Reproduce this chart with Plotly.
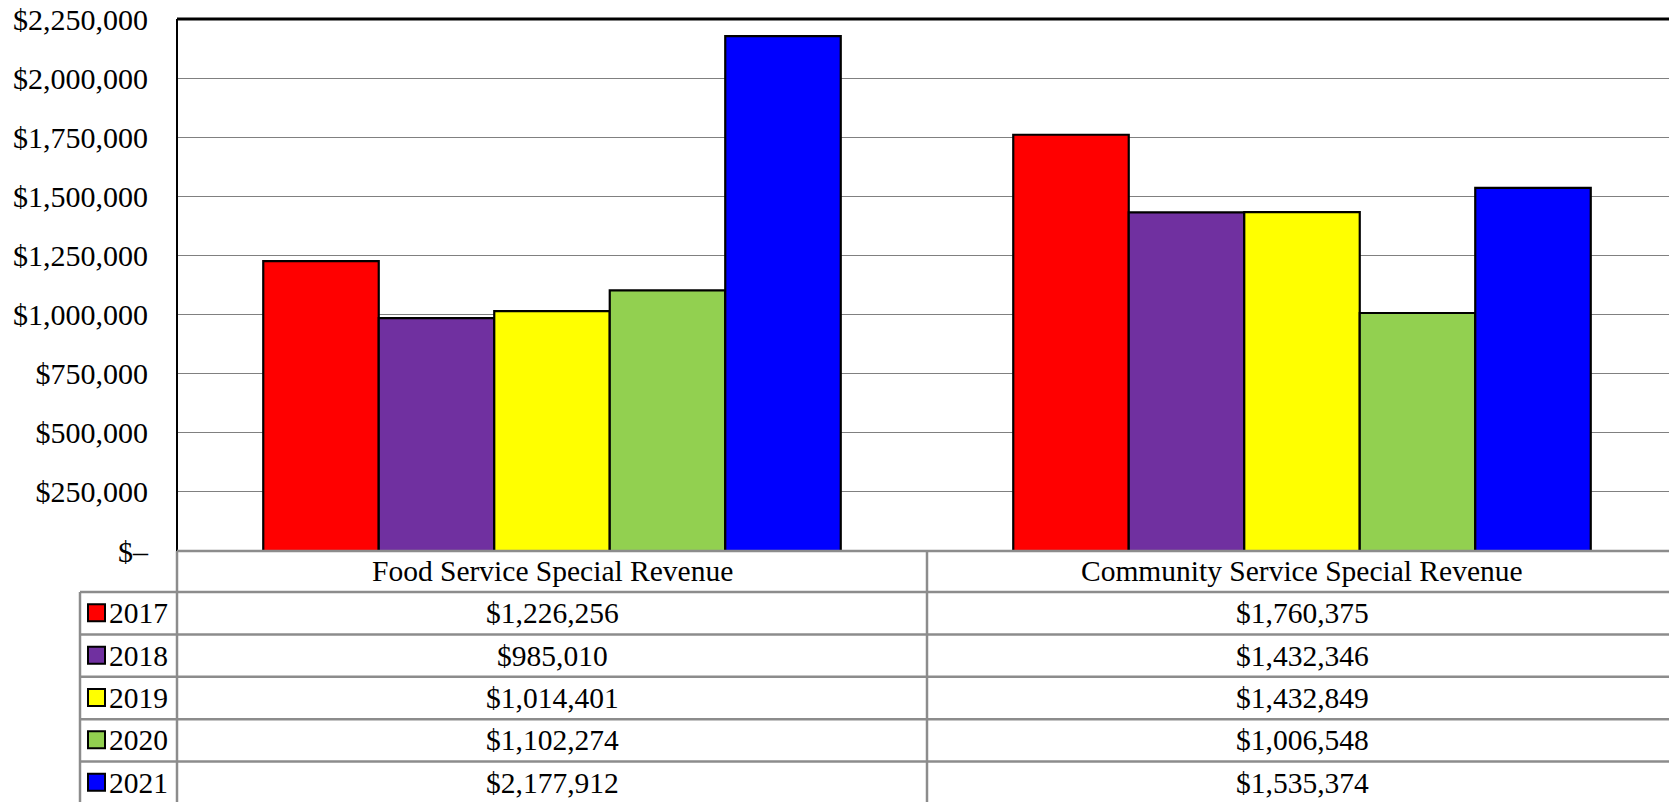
import plotly.graph_objects as go

categories = ["Food Service Special Revenue", "Community Service Special Revenue"]
years = ["2017", "2018", "2019", "2020", "2021"]
colors = ["#FF0000", "#7030A0", "#FFFF00", "#92D050", "#0000FF"]
values_2017 = [1226256, 1760375]
values_2018 = [985010, 1432346]
values_2019 = [1014401, 1432849]
values_2020 = [1102274, 1006548]
values_2021 = [2177912, 1535374]
series = [values_2017, values_2018, values_2019, values_2020, values_2021]
tick_vals = [0, 250000, 500000, 750000, 1000000, 1250000, 1500000, 1750000, 2000000, 2250000]
tick_text = ["$\u2013", "$250,000", "$500,000", "$750,000", "$1,000,000", "$1,250,000",
             "$1,500,000", "$1,750,000", "$2,000,000", "$2,250,000"]

W, H = 1669, 802
L, T, B = 177, 19, 551
PH = B - T
PW = W - L
FONT = "Times New Roman, Liberation Serif, serif"
FS = 29.5
GRID = "#808080"
TBL = "#8C8C8C"

def py(ypx):
    return (B - ypx) / PH

def px(xpx):
    return (xpx - L) / PW

fig = go.Figure()
for yr, vals, c in zip(years, series, colors):
    fig.add_trace(go.Bar(x=categories, y=vals, name=yr, marker=dict(color=c, line=dict(color="black", width=2.2))))

cat_w = 750.0
xmax = -0.5 + PW / cat_w

fig.update_layout(
    width=W, height=H, margin=dict(l=L, r=0, t=T, b=H - B),
    paper_bgcolor="white", plot_bgcolor="white",
    barmode="group", bargap=0.23, bargroupgap=0,
    showlegend=False,
    font=dict(family=FONT, size=FS, color="black"),
    xaxis=dict(range=[-0.5, xmax], showticklabels=False, showgrid=False, zeroline=False, showline=False),
    yaxis=dict(range=[0, 2250000], tickvals=tick_vals, ticktext=tick_text, showgrid=True,
               gridcolor=GRID, gridwidth=1.3, zeroline=False, showline=False,
               ticklabelstandoff=28, tickfont=dict(family=FONT, size=30)),
)

shapes = []
# plot area borders
shapes.append(dict(type="line", xref="paper", yref="paper", x0=0, x1=1, y0=1, y1=1, line=dict(color="black", width=3)))
shapes.append(dict(type="line", xref="paper", yref="paper", x0=0, x1=0, y0=0, y1=1, line=dict(color="black", width=2)))

# table lines
row_edges = [B, 592, 634.5, 676.8, 719.2, 761.5, 804]
shapes.append(dict(type="line", xref="paper", yref="paper", x0=0, x1=1, y0=py(B), y1=py(B), line=dict(color=TBL, width=2.5)))
for yv in row_edges[1:]:
    shapes.append(dict(type="line", xref="paper", yref="paper", x0=px(80), x1=1, y0=py(yv), y1=py(yv), line=dict(color=TBL, width=2.5)))
shapes.append(dict(type="line", xref="paper", yref="paper", x0=0, x1=0, y0=py(B), y1=py(804), line=dict(color=TBL, width=2.5)))
shapes.append(dict(type="line", xref="paper", yref="paper", x0=px(80), x1=px(80), y0=py(592), y1=py(804), line=dict(color=TBL, width=2.5)))
shapes.append(dict(type="line", xref="x", yref="paper", x0=0.5, x1=0.5, y0=py(B), y1=py(804), line=dict(color=TBL, width=2.5)))

annotations = []
# header
hc = (row_edges[0] + row_edges[1]) / 2
for i, cat in enumerate(categories):
    annotations.append(dict(xref="x", yref="paper", x=i, y=py(hc - 1), text=cat, showarrow=False,
                            xanchor="center", yanchor="middle", font=dict(family=FONT, size=FS)))
for r, (yr, vals, c) in enumerate(zip(years, series, colors)):
    y0, y1 = row_edges[r + 1], row_edges[r + 2]
    yc = (y0 + y1) / 2
    shapes.append(dict(type="rect", xref="paper", yref="paper", x0=px(88), x1=px(105),
                       y0=py(yc - 9), y1=py(yc + 8), fillcolor=c, line=dict(color="black", width=2)))
    annotations.append(dict(xref="paper", yref="paper", x=px(107), y=py(yc), text=yr, showarrow=False,
                            xanchor="left", yanchor="middle", font=dict(family=FONT, size=FS)))
    for i, v in enumerate(vals):
        annotations.append(dict(xref="x", yref="paper", x=i, y=py(yc), text=f"${v:,}", showarrow=False,
                                xanchor="center", yanchor="middle", font=dict(family=FONT, size=FS)))

fig.update_layout(shapes=shapes, annotations=annotations)
fig.write_html("out.html")
